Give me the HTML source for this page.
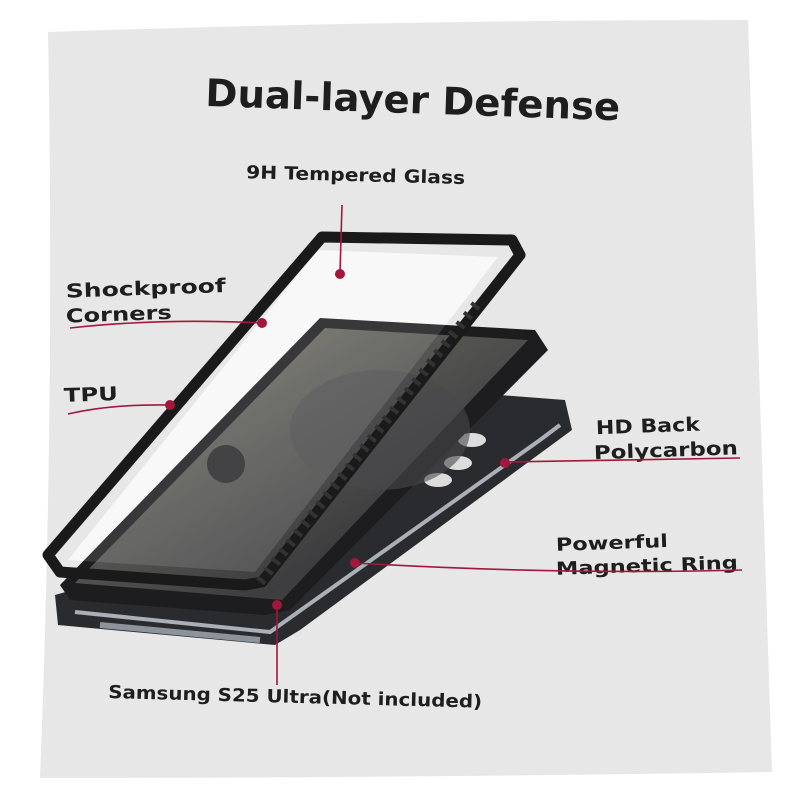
<!DOCTYPE html>
<html><head><meta charset="utf-8"><style>
html,body{margin:0;padding:0;background:#fff;width:800px;height:800px;overflow:hidden}
svg{display:block}
text{font-family:"DejaVu Sans","Liberation Sans",sans-serif;font-weight:bold;fill:#1e1e1e}
</style></head><body>
<svg width="800" height="800" viewBox="0 0 800 800">
<defs>
<linearGradient id="scr" x1="0" y1="0" x2="1" y2="1">
<stop offset="0" stop-color="#8a8570"/><stop offset="0.35" stop-color="#5c5c58"/><stop offset="0.7" stop-color="#3d3d3f"/><stop offset="1" stop-color="#6b5a45"/>
</linearGradient>
</defs>
<path d="M48,32 Q400,20 748,20 Q760,400 772,772 Q400,778 40,778 Q55,400 48,32Z" fill="#e7e7e7"/>
<text x="205" y="113" font-size="38" textLength="415" lengthAdjust="spacingAndGlyphs" transform="rotate(2 410 110)">Dual-layer Defense</text>
<text x="246" y="181" font-size="18" textLength="219" lengthAdjust="spacingAndGlyphs" transform="rotate(1.5 350 180)">9H Tempered Glass</text>
<text x="66" y="295" font-size="19" textLength="160" lengthAdjust="spacingAndGlyphs" transform="rotate(-2 140 295)">Shockproof</text>
<text x="66" y="320" font-size="19" textLength="106" lengthAdjust="spacingAndGlyphs" transform="rotate(-2 140 320)">Corners</text>
<text x="64" y="401" font-size="19" textLength="54" lengthAdjust="spacingAndGlyphs" transform="rotate(-2 90 400)">TPU</text>
<text x="596" y="432" font-size="19" textLength="104" lengthAdjust="spacingAndGlyphs" transform="rotate(-2 660 430)">HD Back</text>
<text x="594" y="457" font-size="19" textLength="144" lengthAdjust="spacingAndGlyphs" transform="rotate(-2 660 455)">Polycarbon</text>
<text x="556" y="548" font-size="18" textLength="112" lengthAdjust="spacingAndGlyphs" transform="rotate(-2 640 545)">Powerful</text>
<text x="556" y="572" font-size="18" textLength="182" lengthAdjust="spacingAndGlyphs" transform="rotate(-2 640 570)">Magnetic Ring</text>
<text x="108" y="703" font-size="18" textLength="374" lengthAdjust="spacingAndGlyphs" transform="rotate(1.5 300 705)">Samsung S25 Ultra(Not included)</text>
<!-- back case -->
<path d="M55,595 L90,585 L500,395 L565,400 L572,430 L300,630 L275,645 L58,625 Z" fill="#2a2b2e"/>
<path d="M75,612 L270,632 L540,440 L560,425" stroke="#aab0b8" stroke-width="4" fill="none"/>
<path d="M100,625 L260,640" stroke="#8d939b" stroke-width="6"/>
<g fill="#dcdcdc"><ellipse cx="438" cy="433" rx="14" ry="7"/><ellipse cx="472" cy="440" rx="14" ry="7"/><ellipse cx="420" cy="452" rx="14" ry="7"/><ellipse cx="458" cy="463" rx="14" ry="7"/><ellipse cx="410" cy="470" rx="14" ry="7"/><ellipse cx="438" cy="480" rx="14" ry="7"/></g>
<!-- glass white -->
<path d="M68,560 L318,250 L498,257 L255,572 Z" fill="#f7f7f7"/>
<!-- middle phone -->
<path d="M60,585 L320,318 L535,330 L548,350 L290,610 L265,615 L70,600 Z" fill="#1d1d20"/>
<path d="M75,583 L325,328 L528,340 L282,600 Z" fill="url(#scr)"/>
<ellipse cx="380" cy="430" rx="90" ry="60" fill="#4a4a4d" opacity="0.6"/>
<circle cx="226" cy="464" r="19" fill="#2a2a2c"/>
<path d="M68,560 L318,250 L498,257 L255,572 Z" fill="#fff" opacity="0.12"/>
<!-- front glass frame -->
<path d="M48,555 L322,237 L512,240 L520,255 L262,582 L245,585 L60,572 Z" fill="none" stroke="#1a1a1a" stroke-width="11" stroke-linejoin="round"/>
<path d="M260,582 L480,300" stroke="#333" stroke-width="10" stroke-dasharray="4 8"/>
<!-- callouts -->
<g stroke="#a3173d" stroke-width="1.6" fill="none">
<path d="M342,205 L340,272"/>
<path d="M70,328 Q160,318 262,323"/>
<path d="M68,414 Q110,404 170,405"/>
<path d="M505,462 L740,458"/>
<path d="M355,563 Q560,575 742,570"/>
<path d="M277,605 L277,685"/>
</g>
<g fill="#a3173d">
<circle cx="340" cy="274" r="5"/><circle cx="262" cy="323" r="5"/><circle cx="170" cy="405" r="5"/>
<circle cx="505" cy="463" r="5"/><circle cx="355" cy="563" r="5"/><circle cx="277" cy="605" r="5"/>
</g>
</svg>
</body></html>
